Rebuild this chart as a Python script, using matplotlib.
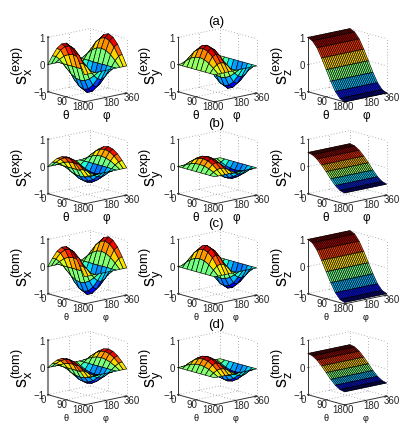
import numpy as np
import matplotlib
matplotlib.use('Agg')
import matplotlib.pyplot as plt

plt.rcParams['font.family'] = ['Liberation Sans', 'DejaVu Sans']
plt.rcParams['mathtext.fontset'] = 'custom'
plt.rcParams['mathtext.rm'] = 'Liberation Sans'
plt.rcParams['mathtext.it'] = 'Liberation Sans'
plt.rcParams['mathtext.default'] = 'regular'

# grid of the measured surfaces
theta_grid = [0, 22.5, 45, 67.5, 90, 112.5, 135, 157.5, 180]
phi_grid = [0, 30, 60, 90, 120, 150, 180, 210, 240, 270, 300, 330, 360]
phi_grid_z = [0, 15, 30, 45, 60, 75, 90, 105, 120, 135, 150, 165, 180, 195, 210,
              225, 240, 255, 270, 285, 300, 315, 330, 345, 360]

# all values below:
# relative height across theta, and s_x / s_y along the theta = 90 ridge
theta_shape = [0.0, 0.38, 0.71, 0.92, 1.0, 0.92, 0.71, 0.38, 0.0]

sx_exp_a = [0.98, 0.85, 0.5, 0.0, -0.5, -0.86, -1.0, -0.87, -0.5, 0.0, 0.52, 0.88, 1.0]
sy_exp_a = [0.0, 0.42, 0.72, 0.82, 0.72, 0.42, 0.0, -0.47, -0.8, -0.93, -0.8, -0.47, 0.0]
sz_exp_a = [1.0, 0.92, 0.71, 0.38, 0.0, -0.38, -0.71, -0.92, -1.0]

sx_exp_b = [0.55, 0.48, 0.28, 0.0, -0.28, -0.47, -0.55, -0.48, -0.28, 0.01, 0.3, 0.52, 0.6]
sy_exp_b = [0.0, 0.24, 0.42, 0.48, 0.42, 0.24, 0.0, -0.24, -0.42, -0.48, -0.42, -0.24, 0.0]
sz_exp_b = [0.52, 0.48, 0.37, 0.2, 0.0, -0.22, -0.42, -0.55, -0.6]

sx_tom_c = [0.93, 0.8, 0.47, 0.0, -0.5, -0.86, -1.0, -0.85, -0.48, 0.0, 0.48, 0.83, 0.96]
sy_tom_c = [0.0, 0.45, 0.77, 0.89, 0.77, 0.45, 0.0, -0.43, -0.74, -0.85, -0.74, -0.43, 0.0]
sz_tom_c = [1.0, 0.92, 0.7, 0.37, 0.0, -0.36, -0.68, -0.88, -0.95]

sx_tom_d = [0.52, 0.45, 0.26, 0.0, -0.27, -0.47, -0.55, -0.47, -0.27, 0.0, 0.28, 0.48, 0.55]
sy_tom_d = [0.0, 0.26, 0.45, 0.52, 0.45, 0.26, 0.0, -0.27, -0.47, -0.55, -0.47, -0.27, 0.0]
sz_tom_d = [0.52, 0.48, 0.37, 0.2, 0.0, -0.2, -0.37, -0.48, -0.52]

row_titles = ['(a)', '(b)', '(c)', '(d)']
row_kinds = ['exp', 'exp', 'tom', 'tom']
theta_ticks = [0, 90, 180]
phi_ticks = [0, 180, 360]
z_ticks = [-1, 0, 1]

rows = [(sx_exp_a, sy_exp_a, sz_exp_a),
        (sx_exp_b, sy_exp_b, sz_exp_b),
        (sx_tom_c, sy_tom_c, sz_tom_c),
        (sx_tom_d, sy_tom_d, sz_tom_d)]

W, H = 415, 435
col_x = [86, 216, 346]
row_y = [67.5, 169.5, 269.5, 370.5]
title_y = [22, 124, 224, 325]
AX_SIZE = 94

fig = plt.figure(figsize=(W / 100, H / 100), dpi=100)


def draw_box(ax, col):
    # dotted back of the box, behind the surface
    grid = dict(color='#9a9a9a', lw=0.6, ls=(0, (1, 2.5)), zorder=1)
    ax.plot([0, 0], [0, 360], [1, 1], **grid)
    ax.plot([0, 180], [360, 360], [1, 1], **grid)
    ax.plot([0, 0], [360, 360], [-1, 1], **grid)
    ax.plot([180, 180], [360, 360], [-1, 1], **grid)
    ax.plot([0, 0], [0, 360], [0, 0], **grid)
    ax.plot([0, 180], [360, 360], [0, 0], **grid)
    ax.plot([0, 0], [180, 180], [-1, 1], **grid)
    ax.plot([90, 90], [360, 360], [-1, 1], **grid)
    ax.plot([90, 90], [0, 360], [-1, -1], **grid)
    ax.plot([0, 180], [180, 180], [-1, -1], **grid)
    ax.plot([0, 0], [0, 360], [-1, -1], **grid)
    ax.plot([0, 180], [360, 360], [-1, -1], **grid)

    dark = dict(color='#333333', lw=0.7, zorder=1.5)
    ax.plot([0, 180], [0, 0], [-1, -1], **dark)
    ax.plot([180, 180], [0, 360], [-1, -1], **dark)
    if col == 0:
        ax.plot([0, 0], [0, 0], [-1, 1], color='#8a8a8a', lw=1.5, zorder=1.5)
    else:
        ax.plot([0, 0], [0, 0], [-1, 1], **dark)
    for t in theta_ticks:
        ax.plot([t, t], [0, 9], [-1, -1], **dark)
    for p in phi_ticks:
        ax.plot([180, 175], [p, p], [-1, -1], **dark)
    for z in z_ticks:
        ax.plot([0, 0], [0, 9], [z, z], **dark)


def draw_ticks(ax):
    for t in theta_ticks:
        ax.text(t - 4, -30, -1.13, str(t), fontsize=7, ha='center', va='center', color='#222222')
    for p in phi_ticks:
        ax.text(200, p + 12, -1.13, str(p), fontsize=7, ha='center', va='center', color='#222222')
    for z in z_ticks:
        label = '\u22121' if z < 0 else str(z)
        ax.text(0, -24, z, label, fontsize=7, ha='right', va='center', color='#222222')


for r, (row_vals, kind) in enumerate(zip(rows, row_kinds)):
    fig.text(216 / W, 1 - title_y[r] / H, row_titles[r], fontsize=9.5, ha='center', va='center')
    for c, comp in enumerate('xyz'):
        left = (col_x[c] - AX_SIZE / 2) / W
        bottom = 1 - (row_y[r] + AX_SIZE / 2) / H
        ax = fig.add_axes([left, bottom, AX_SIZE / W, AX_SIZE / H], projection='3d',
                          proj_type='ortho', computed_zorder=False)
        ax.set_axis_off()
        ax.patch.set_alpha(0)
        ax.set_box_aspect((1, 1, 1))
        ax.view_init(elev=14, azim=-41)

        vals = np.array(row_vals[c], dtype=float)
        if comp == 'z':
            phis = np.array(phi_grid_z, dtype=float)
            Z = np.tile(vals[:, None], (1, len(phis)))
        else:
            phis = np.array(phi_grid, dtype=float)
            Z = np.outer(theta_shape, vals)
        T, P = np.meshgrid(theta_grid, phis, indexing='ij')

        colors = plt.get_cmap('jet')((Z - Z.min()) / (Z.max() - Z.min()))
        draw_box(ax, c)
        ax.plot_surface(T, P, Z, facecolors=colors, rstride=1, cstride=1, shade=False,
                        edgecolor='black', linewidth=0.45, antialiased=True, zorder=2)
        draw_ticks(ax)

        ax.set_xlim(0, 180, view_margin=0)
        ax.set_ylim(0, 360, view_margin=0)
        ax.set_zlim(-1, 1, view_margin=0)

        # axis labels placed in figure pixels relative to the panel
        cx = col_x[c]
        cy = row_y[r]
        small = kind == 'tom'
        fig.text((cx - 20) / W, 1 - (cy + 48.5) / H, '\u03b8', fontsize=6.5 if small else 8.5,
                 ha='center', va='center')
        fig.text((cx + 20) / W, 1 - (cy + 48.5) / H, '\u03c6', fontsize=6.5 if small else 8.5,
                 ha='center', va='center')
        fig.text((cx - 64) / W, 1 - (cy - 2) / H, '$s_{%s}^{(%s)}$' % (comp, kind), fontsize=13,
                 rotation=90, ha='center', va='center')

fig.savefig('out.png', dpi=100)
